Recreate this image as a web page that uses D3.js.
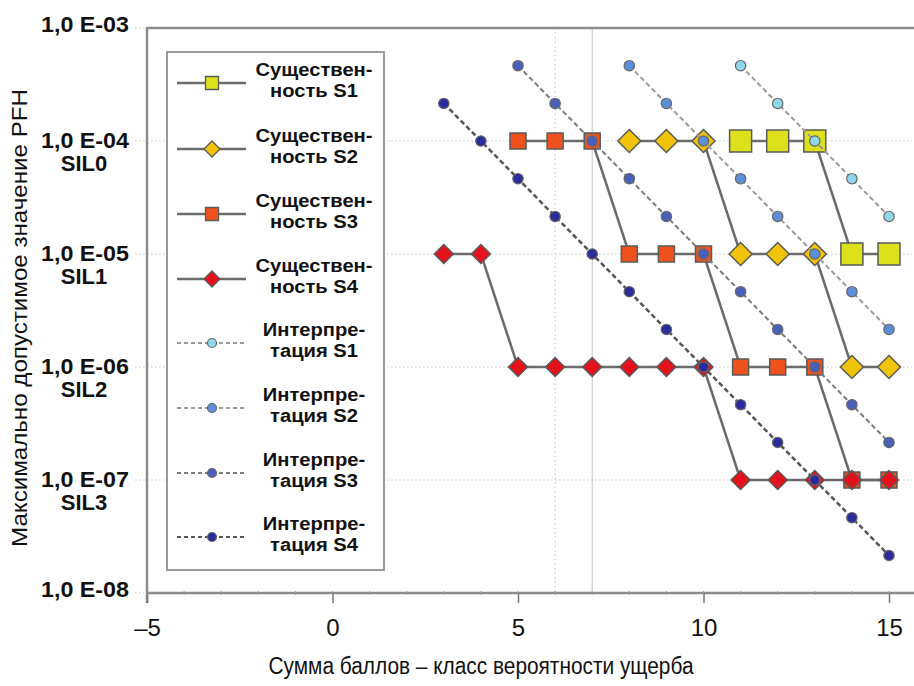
<!DOCTYPE html>
<html><head><meta charset="utf-8">
<script src="https://cdn.jsdelivr.net/npm/d3@7"></script>
<style>
html,body{margin:0;padding:0;background:#fff;}
svg{display:block;}
text{font-family:"Liberation Sans",Arial,sans-serif;}
</style></head>
<body>
<script>
// ---- data ----
const xTicks = [-5, 0, 5, 10, 15];
const yTicks = [1e-3, 1e-4, 1e-5, 1e-6, 1e-7, 1e-8];
const yTickLabels = ["1,0 E-03", "1,0 E-04", "1,0 E-05", "1,0 E-06", "1,0 E-07", "1,0 E-08"];
const silLabels = ["", "SIL0", "SIL1", "SIL2", "SIL3", ""];

const sevNames = ["Существен-|ность S1", "Существен-|ность S2", "Существен-|ность S3", "Существен-|ность S4"];
const intNames = ["Интерпре-|тация S1", "Интерпре-|тация S2", "Интерпре-|тация S3", "Интерпре-|тация S4"];

const s1x = [11, 12, 13, 14, 15];
const s1v = [1e-4, 1e-4, 1e-4, 1e-5, 1e-5];
const s2x = [8, 9, 10, 11, 12, 13, 14, 15];
const s2v = [1e-4, 1e-4, 1e-4, 1e-5, 1e-5, 1e-5, 1e-6, 1e-6];
const s3x = [5, 6, 7, 8, 9, 10, 11, 12, 13, 14, 15];
const s3v = [1e-4, 1e-4, 1e-4, 1e-5, 1e-5, 1e-5, 1e-6, 1e-6, 1e-6, 1e-7, 1e-7];
const s4x = [3, 4, 5, 6, 7, 8, 9, 10, 11, 12, 13, 14, 15];
const s4v = [1e-5, 1e-5, 1e-6, 1e-6, 1e-6, 1e-6, 1e-6, 1e-6, 1e-7, 1e-7, 1e-7, 1e-7, 1e-7];

const i1x = [11, 12, 13, 14, 15];
const i1v = [4.64e-4, 2.15e-4, 1e-4, 4.64e-5, 2.15e-5];
const i2x = [8, 9, 10, 11, 12, 13, 14, 15];
const i2v = [4.64e-4, 2.15e-4, 1e-4, 4.64e-5, 2.15e-5, 1e-5, 4.64e-6, 2.15e-6];
const i3x = [5, 6, 7, 8, 9, 10, 11, 12, 13, 14, 15];
const i3v = [4.64e-4, 2.15e-4, 1e-4, 4.64e-5, 2.15e-5, 1e-5, 4.64e-6, 2.15e-6, 1e-6, 4.64e-7, 2.15e-7];
const i4x = [3, 4, 5, 6, 7, 8, 9, 10, 11, 12, 13, 14, 15];
const i4v = [2.15e-4, 1e-4, 4.64e-5, 2.15e-5, 1e-5, 4.64e-6, 2.15e-6, 1e-6, 4.64e-7, 2.15e-7, 1e-7, 4.64e-8, 2.15e-8];

// ---- styles ----
const sevStyles = [
  {shape: "square", size: 22, fill: "#dce11c", lsize: 13},
  {shape: "diamond", size: 23, fill: "#f1c40a", lsize: 16},
  {shape: "square", size: 16, fill: "#f0521e", lsize: 13},
  {shape: "diamond", size: 19, fill: "#e5121d", lsize: 16}
];
const intStyles = [
  {fill: "#8fd6ea", line: "#9a9a9a"},
  {fill: "#5c8fd8", line: "#9a9a9a"},
  {fill: "#4a5fb8", line: "#7a7a7a"},
  {fill: "#2a2c9c", line: "#555"}
];

const W = 914, H = 686;
const svg = d3.select("body").append("svg").attr("width", W).attr("height", H);

const x = d3.scaleLinear().domain([-5, 15]).range([147, 889]);
const y = d3.scaleLog().domain([1e-8, 1e-3]).range([593, 28]);

// gridlines
const grid = svg.append("g");
grid.selectAll("line.h").data(yTicks.slice(1, 5)).join("line")
  .attr("x1", 135).attr("x2", W).attr("y1", d => y(d)).attr("y2", d => y(d))
  .attr("stroke", "#c8c8c8").attr("stroke-width", 1).attr("stroke-dasharray", "1.5,2.5");
grid.append("line").attr("x1", 135).attr("x2", 147).attr("y1", y(1e-3)).attr("y2", y(1e-3))
  .attr("stroke", "#c8c8c8").attr("stroke-dasharray", "1.5,2.5");
grid.append("line").attr("x1", 135).attr("x2", 147).attr("y1", y(1e-8)).attr("y2", y(1e-8))
  .attr("stroke", "#c8c8c8").attr("stroke-dasharray", "1.5,2.5");
grid.append("line").attr("x1", x(6)).attr("x2", x(6)).attr("y1", y(1e-3)).attr("y2", y(1e-8))
  .attr("stroke", "#bdbdbd").attr("stroke-dasharray", "1.5,3");
grid.append("line").attr("x1", x(7)).attr("x2", x(7)).attr("y1", y(1e-3)).attr("y2", y(1e-8))
  .attr("stroke", "#c4c4c4").attr("stroke-width", 1);

// axes frame
const axisColor = "#8c8c8c";
svg.append("line").attr("x1", 147).attr("x2", W).attr("y1", y(1e-3)).attr("y2", y(1e-3))
  .attr("stroke", axisColor).attr("stroke-width", 2.5);
svg.append("line").attr("x1", 147).attr("x2", 147).attr("y1", y(1e-3) - 1).attr("y2", y(1e-8) + 10)
  .attr("stroke", axisColor).attr("stroke-width", 2.5);

const xAxis = d3.axisBottom(x).tickValues(xTicks).tickSize(10)
  .tickFormat(d => d < 0 ? "\u2013" + Math.abs(d) : String(d));
const gx = svg.append("g").attr("transform", `translate(0,${y(1e-8)})`).call(xAxis);
gx.select(".domain").attr("stroke", axisColor).attr("stroke-width", 2.5).attr("d", `M147,0H${W}`);
gx.selectAll(".tick line").attr("stroke", "#777").attr("stroke-width", 1.5);
gx.selectAll(".tick text").attr("font-size", 24).attr("fill", "#111").attr("dy", "1.25em")
  .attr("font-family", "'Liberation Sans',Arial,sans-serif");
// minor ticks
gx.selectAll("line.minor").data(d3.range(-5, 16)).join("line").attr("class", "minor")
  .attr("x1", d => x(d)).attr("x2", d => x(d)).attr("y1", -2).attr("y2", 2)
  .attr("stroke", "#999").attr("stroke-width", 1);

// y labels
const yl = svg.append("g");
yTicks.forEach((t, i) => {
  const two = silLabels[i] !== "";
  const yy = y(t) + (two ? 7 : 4);
  yl.append("text").attr("x", 85).attr("y", yy).attr("text-anchor", "middle")
    .attr("font-size", 22).attr("font-weight", "bold").attr("fill", "#111")
    .attr("textLength", 88).attr("lengthAdjust", "spacingAndGlyphs").text(yTickLabels[i]);
  if (two) {
    yl.append("text").attr("x", 84).attr("y", yy + 23).attr("text-anchor", "middle")
      .attr("font-size", 22).attr("font-weight", "bold").attr("fill", "#111").text(silLabels[i]);
  }
});

// axis titles
svg.append("text").attr("x", 481).attr("y", 674).attr("text-anchor", "middle")
  .attr("font-size", 23).attr("fill", "#111").attr("textLength", 425).attr("lengthAdjust", "spacingAndGlyphs")
  .text("Сумма баллов – класс вероятности ущерба");
svg.append("text").attr("transform", "translate(27,318) rotate(-90)").attr("text-anchor", "middle")
  .attr("font-size", 22).attr("fill", "#111").attr("textLength", 458).attr("lengthAdjust", "spacingAndGlyphs")
  .text("Максимально допустимое значение PFH");

// markers
function markerPath(shape, s) {
  const h = s / 2;
  if (shape === "square") return `M${-h},${-h}H${h}V${h}H${-h}Z`;
  return `M0,${-h}L${h},0L0,${h}L${-h},0Z`;
}

const plot = svg.append("g");
const sev = [[s1x, s1v], [s2x, s2v], [s3x, s3v], [s4x, s4v]];
const ints = [[i1x, i1v], [i2x, i2v], [i3x, i3v], [i4x, i4v]];
const line = d3.line().x(d => x(d[0])).y(d => y(d[1]));

sev.forEach(([xs, vs]) => {
  const pts = xs.map((d, i) => [d, vs[i]]);
  plot.append("path").attr("d", line(pts)).attr("fill", "none").attr("stroke", "#6b6b6b").attr("stroke-width", 2.5);
});
sev.forEach(([xs, vs], k) => {
  const st = sevStyles[k];
  const pts = xs.map((d, i) => [d, vs[i]]);
  plot.append("g").selectAll("path").data(pts).join("path")
    .attr("transform", d => `translate(${x(d[0])},${y(d[1])})`)
    .attr("d", markerPath(st.shape, st.size)).attr("fill", st.fill)
    .attr("stroke", "#5a5a5a").attr("stroke-width", 1.5);
});
ints.forEach(([xs, vs], k) => {
  const st = intStyles[k];
  const pts = xs.map((d, i) => [d, vs[i]]);
  plot.append("path").attr("d", line(pts)).attr("fill", "none").attr("stroke", st.line)
    .attr("stroke-width", k === 3 ? 2.5 : 2).attr("stroke-dasharray", "5,3");
});
ints.forEach(([xs, vs], k) => {
  const st = intStyles[k];
  const pts = xs.map((d, i) => [d, vs[i]]);
  plot.append("g").selectAll("circle").data(pts).join("circle")
    .attr("cx", d => x(d[0])).attr("cy", d => y(d[1])).attr("r", 5.2)
    .attr("fill", st.fill).attr("stroke", "#666").attr("stroke-width", 1.2);
});

// legend
const lg = svg.append("g");
lg.append("rect").attr("x", 167).attr("y", 52).attr("width", 217).attr("height", 518)
  .attr("fill", "#fff").attr("stroke", "#9a9a9a").attr("stroke-width", 2);
const legY = [83, 149, 214, 279, 343, 408, 473, 537];
const allNames = sevNames.concat(intNames);
allNames.forEach((name, i) => {
  const yy = legY[i];
  const isSev = i < 4;
  lg.append("line").attr("x1", 177).attr("x2", 246).attr("y1", yy).attr("y2", yy)
    .attr("stroke", isSev ? "#6b6b6b" : intStyles[i - 4].line).attr("stroke-width", isSev ? 2.5 : 2)
    .attr("stroke-dasharray", isSev ? null : "4,3");
  if (isSev) {
    const st = sevStyles[i];
    lg.append("path").attr("transform", `translate(212,${yy})`).attr("d", markerPath(st.shape, st.lsize))
      .attr("fill", st.fill).attr("stroke", "#5a5a5a").attr("stroke-width", 1.3);
  } else {
    lg.append("circle").attr("cx", 212).attr("cy", yy).attr("r", 4.5)
      .attr("fill", intStyles[i - 4].fill).attr("stroke", "#666").attr("stroke-width", 1.2);
  }
  const parts = name.split("|");
  [[parts[0], yy - 7], [parts[1], yy + 14]].forEach(([txt, ty]) => {
    const t = lg.append("text").attr("x", 314).attr("y", ty).attr("text-anchor", "middle")
      .attr("font-size", 18).attr("font-weight", "bold").attr("fill", "#111").text(txt);
    const len = t.node().getComputedTextLength();
    t.attr("textLength", len * 1.12).attr("lengthAdjust", "spacingAndGlyphs");
  });
});
</script>
</body></html>
